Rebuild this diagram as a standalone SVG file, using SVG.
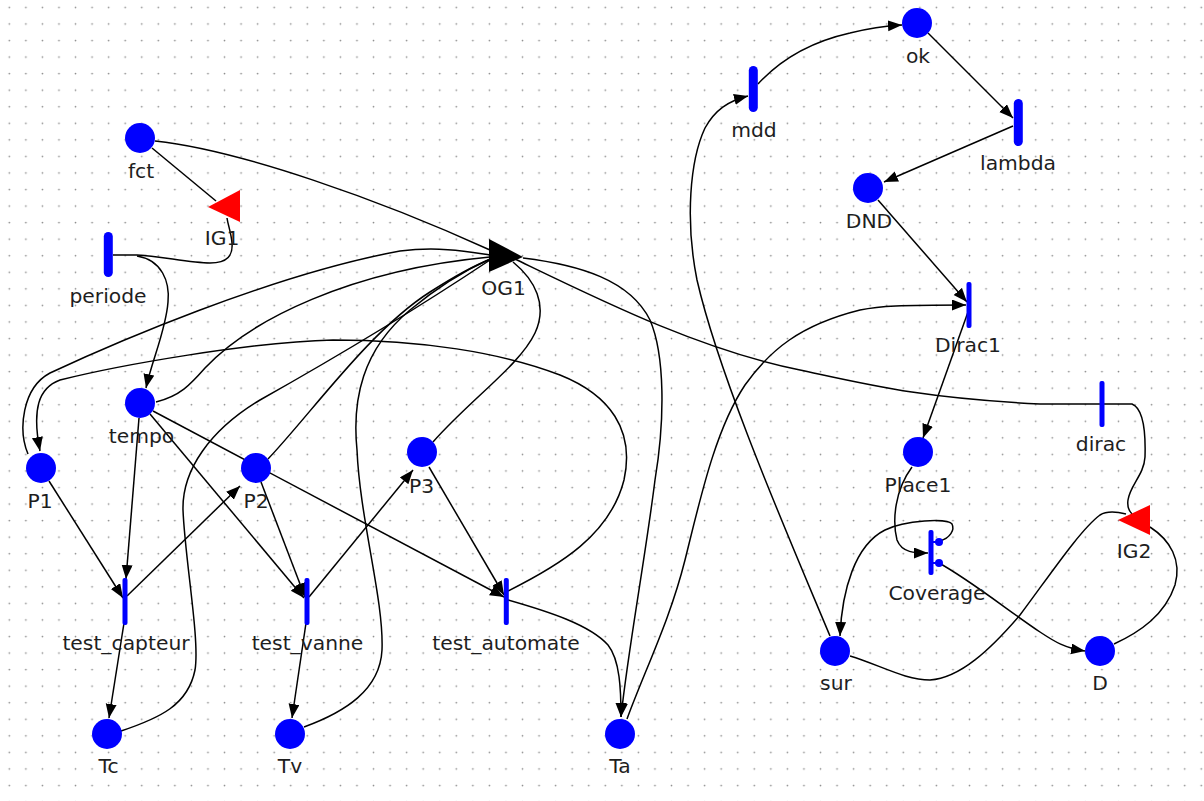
<svg xmlns="http://www.w3.org/2000/svg" width="1204" height="801" viewBox="0 0 1204 801">
<defs>
<pattern id="grid" width="16.555" height="16.555" patternUnits="userSpaceOnUse" x="1.03" y="-0.97">
<circle cx="8.28" cy="8.28" r="0.85" fill="#8a8a8a"/>
</pattern>
<marker id="ah" markerWidth="15" markerHeight="12" refX="14" refY="5.5" orient="auto" markerUnits="userSpaceOnUse">
<path d="M0,0 L14,5.5 L0,11 z" fill="#000"/>
</marker>
<style>
.e{fill:none;stroke:#000;stroke-width:1.5}
.a{marker-end:url(#ah)}
.pl{fill:#0000ff}
.tk{fill:#0000ff}
.tn{fill:#0000ff}
.lb{font-family:"DejaVu Sans",sans-serif;font-size:20.3px;fill:#1e1e1e;text-anchor:middle}
</style>
</defs>
<rect width="1204" height="801" fill="#fff"/>
<rect width="1204" height="801" fill="url(#grid)"/>
<g id="connectors">
<path class="e" d="M152 148 L216 201"/>
<path class="e" d="M155 141 C240 150 380 200 490 250"/>
<path class="e" d="M113 255 L137 255 C160 256 190 263 210 263 C228 263 233 255 232 243 C231 232 228 225 227 218"/>
<path class="e a" d="M137 256 C162 260 170 282 168 302 C166 330 152 360 146 388"/>
<path class="e" d="M156 402 C180 396 190 385 205 368 C250 320 350 270 490 257"/>
<path class="e" d="M28 454 C18 430 22 388 50 373 C110 345 270 275 400 251 C440 246 470 252 490 255"/>
<path class="e a" d="M508 591 C560 565 610 535 624 480 C635 430 610 395 560 375 C500 352 420 340 333 340 C250 342 120 365 60 380 C38 388 32 410 40 451"/>
<path class="e" d="M268 459 C310 415 370 330 430 292 C455 276 475 265 491 259"/>
<path class="e" d="M121 731 C160 718 188 705 195 670 C200 640 185 560 183 510 C182 470 210 430 260 400 C340 355 430 300 490 260"/>
<path class="e" d="M304 727 C345 712 380 690 382 650 C384 600 360 520 357 450 C352 400 362 350 410 310 C440 285 470 268 490 259"/>
<path class="e" d="M513 262 C535 280 548 305 535 333 C520 365 470 400 433 442"/>
<path class="e a" d="M523 258 C580 265 630 280 650 320 C665 355 665 420 655 480 C645 560 628 650 621 717"/>
<path class="e" d="M515 259 C600 300 700 350 800 370 C870 385 920 398 1040 404 L1132 404 C1142 408 1146 425 1145 457 C1144 475 1130 485 1128 500 C1127 507 1130 512 1132 514"/>
<path class="e" d="M850 656 C880 665 905 680 930 680 C960 678 990 650 1020 615 C1050 575 1080 530 1100 515 C1108 510 1118 512 1126 514"/>
<path class="e" d="M1114 644 C1140 632 1165 615 1175 585 C1182 560 1170 540 1150 527"/>
<path class="e a" d="M939 563 C970 580 1010 612 1040 632 C1055 642 1065 648 1085 651"/>
<path class="e a" d="M940 541 C950 538 955 530 952 524 C948 518 905 520 885 530 C855 545 842 590 840 636"/>
<path class="e a" d="M912 467 C895 490 892 520 897 540 C902 553 915 553 928 553"/>
<path class="e a" d="M968 312 L923 438"/>
<path class="e a" d="M878 200 L967 302"/>
<path class="e a" d="M627 719 C645 670 670 620 685 560 C700 500 715 430 745 385 C770 350 800 325 860 310 C880 306 900 305 966 305"/>
<path class="e a" d="M830 636 C790 540 720 380 697 280 C685 220 690 160 705 128 C715 110 728 101 748 96"/>
<path class="e a" d="M758 84 C780 60 810 42 850 33 C870 28 885 26 902 25"/>
<path class="e a" d="M928 33 L1013 118"/>
<path class="e a" d="M1013 126 L884 182"/>
<path class="e a" d="M139 418 L126 579"/>
<path class="e a" d="M49 481 L123 598"/>
<path class="e a" d="M127 596 L240 486"/>
<path class="e a" d="M124 623 L109 718"/>
<path class="e a" d="M150 414 L304 598"/>
<path class="e a" d="M153 411 L504 597"/>
<path class="e a" d="M261 482 L305 597"/>
<path class="e a" d="M309 597 L413 470"/>
<path class="e a" d="M306 623 L292 718"/>
<path class="e a" d="M429 467 L504 595"/>
<path class="e a" d="M508 600 C550 612 590 625 608 645 C620 660 621 690 621 717"/>
</g>
<g id="fct"><circle class="pl" cx="140" cy="138" r="15"/><text class="lb" x="141" y="178">fct</text></g>
<g id="IG1"><polygon points="208,207 240,190 240,222" fill="#ff0000"/><text class="lb" x="222" y="245">IG1</text></g>
<g id="periode"><rect class="tk" x="103.8" y="232" width="9" height="45" rx="4.5"/><text class="lb" x="108" y="303">periode</text></g>
<g id="OG1"><polygon points="489,239 489,272 523,257" fill="#000"/><text class="lb" x="503.5" y="295">OG1</text></g>
<g id="tempo"><circle class="pl" cx="140" cy="403" r="15"/><text class="lb" x="141.5" y="443">tempo</text></g>
<g id="P1"><circle class="pl" cx="41" cy="468" r="15"/><text class="lb" x="40" y="508">P1</text></g>
<g id="P2"><circle class="pl" cx="256" cy="468" r="15"/><text class="lb" x="256" y="508">P2</text></g>
<g id="P3"><circle class="pl" cx="422" cy="452" r="15"/><text class="lb" x="421.5" y="493">P3</text></g>
<g id="test_capteur"><rect class="tn" x="122.5" y="578" width="5" height="47" rx="2"/><text class="lb" x="126" y="650">test_capteur</text></g>
<g id="test_vanne"><rect class="tn" x="304.5" y="578" width="5" height="47" rx="2"/><text class="lb" x="307.5" y="650">test_vanne</text></g>
<g id="test_automate"><rect class="tn" x="503.8" y="578" width="5" height="47" rx="2"/><text class="lb" x="506" y="650">test_automate</text></g>
<g id="Tc"><circle class="pl" cx="107" cy="734" r="15"/><text class="lb" x="108.5" y="773">Tc</text></g>
<g id="Tv"><circle class="pl" cx="290" cy="734" r="15"/><text class="lb" x="290" y="773">Tv</text></g>
<g id="Ta"><circle class="pl" cx="620" cy="734" r="15"/><text class="lb" x="620" y="772.5">Ta</text></g>
<g id="mdd"><rect class="tk" x="748.8" y="66" width="9" height="46" rx="4.5"/><text class="lb" x="754" y="137">mdd</text></g>
<g id="ok"><circle class="pl" cx="917" cy="23" r="15"/><text class="lb" x="918" y="63">ok</text></g>
<g id="lambda"><rect class="tk" x="1013.8" y="99" width="9" height="47" rx="4.5"/><text class="lb" x="1018" y="170">lambda</text></g>
<g id="DND"><circle class="pl" cx="868" cy="188" r="15"/><text class="lb" x="869" y="228">DND</text></g>
<g id="Dirac1"><rect class="tn" x="966.5" y="282" width="5" height="46" rx="2"/><text class="lb" x="968" y="352">Dirac1</text></g>
<g id="dirac"><rect class="tn" x="1099.5" y="381" width="5" height="46" rx="2"/><text class="lb" x="1101" y="451">dirac</text></g>
<g id="Place1"><circle class="pl" cx="918" cy="452" r="15"/><text class="lb" x="918" y="492">Place1</text></g>
<g id="Coverage"><rect class="tn" x="928.5" y="530" width="5" height="45" rx="2"/><line x1="931" y1="542" x2="936" y2="542" stroke="#0000ff" stroke-width="2"/><line x1="931" y1="563" x2="936" y2="563" stroke="#0000ff" stroke-width="2"/><circle class="pl" cx="939" cy="542" r="4"/><circle class="pl" cx="939" cy="563" r="4"/><text class="lb" x="937" y="600">Coverage</text></g>
<g id="IG2"><polygon points="1118,520 1150,505 1150,535" fill="#ff0000"/><text class="lb" x="1134" y="558">IG2</text></g>
<g id="sur"><circle class="pl" cx="835" cy="651" r="15"/><text class="lb" x="836" y="690">sur</text></g>
<g id="D"><circle class="pl" cx="1100" cy="651" r="15"/><text class="lb" x="1100" y="690">D</text></g>
</svg>
